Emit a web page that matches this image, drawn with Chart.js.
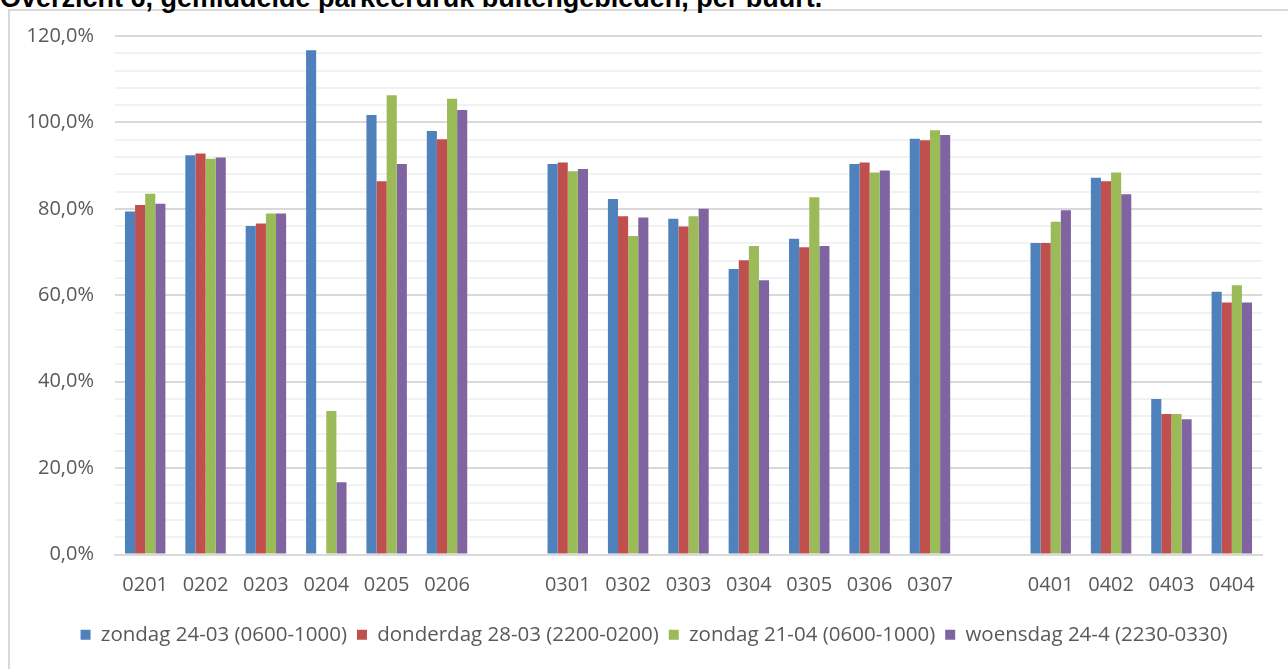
<!DOCTYPE html>
<html>
<head>
<meta charset="utf-8">
<script src="https://cdn.jsdelivr.net/npm/chart.js@4.4.1/dist/chart.umd.min.js"></script>
<style>
  html, body { margin: 0; padding: 0; background: #fff; }
  #wrap { position: relative; width: 1288px; height: 669px; overflow: hidden; background: #fff; }
  #frame { position: absolute; left: 8px; top: 9px; width: 1300px; height: 700px; border: 2px solid #d9d9d9; box-sizing: border-box; }
  #title { position: absolute; left: 0; top: -15px; font: bold 27px "Liberation Sans", Arial, sans-serif; color: #000; white-space: nowrap; line-height: 1; }
  #c { position: absolute; left: 0; top: 0; }
</style>
</head>
<body>
<div id="wrap">
  <div id="frame"></div>
  <div id="title">Overzicht 6, gemiddelde parkeerdruk buitengebieden, per buurt.</div>
  <canvas id="c" width="1288" height="669"></canvas>
</div>
<script>
const categories = ['0201','0202','0203','0204','0205','0206','','0301','0302','0303','0304','0305','0306','0307','','0401','0402','0403','0404'];
const seriesNames = ['zondag 24-03 (0600-1000)','donderdag 28-03 (2200-0200)','zondag 21-04 (0600-1000)','woensdag 24-4 (2230-0330)'];
const zondag2403 =    [79.4, 92.4, 76.0, 116.7, 101.7, 98.0, null, 90.4, 82.3, 77.7, 66.1, 73.1, 90.4, 96.2, null, 72.1, 87.2, 36.0, 60.8];
const donderdag2803 = [80.9, 92.8, 76.6, null,  86.4,  96.1, null, 90.7, 78.3, 75.9, 68.1, 71.1, 90.7, 95.9, null, 72.1, 86.4, 32.5, 58.3];
const zondag2104 =    [83.5, 91.6, 78.9, 33.2,  106.3, 105.5, null, 88.7, 73.7, 78.3, 71.4, 82.7, 88.4, 98.2, null, 77.0, 88.4, 32.5, 62.3];
const woensdag244 =   [81.2, 91.9, 78.9, 16.7,  90.4,  102.9, null, 89.2, 78.0, 80.0, 63.5, 71.4, 88.9, 97.1, null, 79.7, 83.4, 31.3, 58.3];
const colors = ['#4F81BD','#C0504D','#9BBB59','#8064A2'];
const seriesData = [zondag2403, donderdag2803, zondag2104, woensdag244];

const tickFont = { family: '"Open Sans", sans-serif', size: 20 };
const legendFont = { family: '"Open Sans", sans-serif', size: 20.5 };
const textColor = '#595959';

const shiftLegend = {
  id: 'shiftLegend',
  afterLayout(chart) {
    const lg = chart.legend;
    if (lg) { lg.left += 23; lg.right += 23; }
  }
};

new Chart(document.getElementById('c'), {
  type: 'bar',
  data: {
    labels: categories,
    datasets: seriesData.map((d, i) => ({
      label: seriesNames[i],
      data: d.map(v => v === null ? null : v / 100),
      backgroundColor: colors[i],
      borderWidth: 0,
      categoryPercentage: 0.67,
      barPercentage: 1.0
    }))
  },
  plugins: [shiftLegend],
  options: {
    responsive: false,
    animation: false,
    layout: { padding: { left: 0, right: 26, top: 36, bottom: 14 } },
    plugins: {
      tooltip: { enabled: false },
      legend: {
        position: 'bottom',
        labels: { font: legendFont, color: textColor, boxWidth: 10, boxHeight: 10, padding: 10 }
      }
    },
    scales: {
      x: {
        grid: { display: false, drawTicks: false },
        border: { color: '#d9d9d9', width: 2 },
        ticks: { font: tickFont, color: textColor, padding: 19, autoSkip: false, maxRotation: 0 },
        afterFit: s => { s.height = 60; }
      },
      y: {
        min: 0, max: 1.2,
        border: { display: false },
        grid: {
          drawTicks: false,
          lineWidth: 2,
          color: ctx => (Math.round(ctx.tick.value * 100) % 20 === 0) ? '#d9d9d9' : '#f2f2f2'
        },
        ticks: {
          stepSize: 0.04,
          autoSkip: false,
          font: tickFont, color: textColor, padding: 21,
          callback: v => {
            const p = Math.round(v * 100);
            return p % 20 === 0 ? p.toFixed(1).replace('.', ',') + '%' : '';
          }
        },
        afterFit: s => { s.width = 115; }
      }
    }
  }
});
</script>
</body>
</html>
